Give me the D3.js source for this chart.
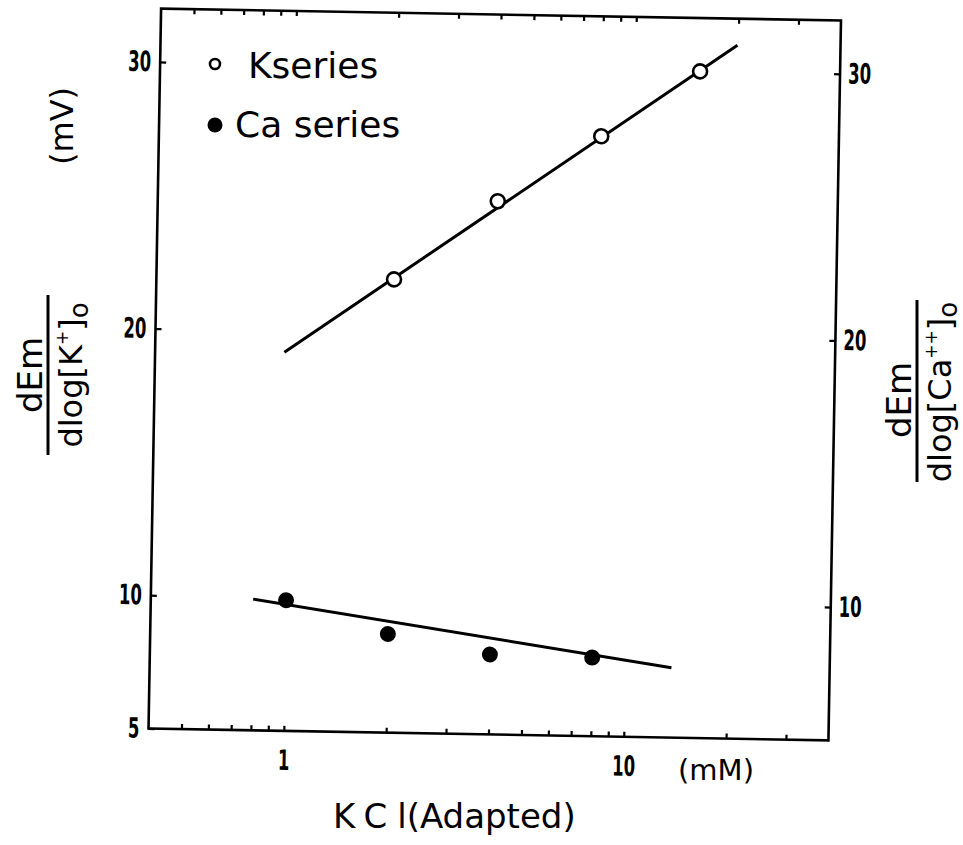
<!DOCTYPE html>
<html>
<head>
<meta charset="utf-8">
<script src="https://cdn.jsdelivr.net/npm/d3@7"></script>
<style>
  body { margin: 0; background: #fff; }
  .frame { fill: none; stroke: #000; stroke-width: 2.6; }
  .tick line { stroke: #000; stroke-width: 2.2; }
  .tick text { font-family: "DejaVu Sans", sans-serif; font-weight: bold; font-size: 28px; fill: #000; }
  .fit { fill: none; stroke: #000; stroke-width: 3; }
  .lbl { font-family: "DejaVu Sans", sans-serif; fill: #000; }
</style>
</head>
<body>
<script>
// K series (open circles): KCl adapted (mM) vs dEm/dlog[K+]o (mV)
const kConc = [2, 4, 8, 15.5];
const kSlope = [22.0, 25.0, 27.5, 30.0];
// Ca series (filled circles): dEm/dlog[Ca++]o (mV)
const caConc = [1, 2, 4, 8];
const caSlope = [9.9, 8.7, 8.0, 7.95];
// drawn regression lines, end points
const kFitConc = [0.96, 19.9];
const kFitSlope = [19.2, 31.0];
const caFitConc = [0.8, 13.7];
const caFitSlope = [9.92, 7.62];
// axes
const xDomain = [0.4, 40];
const xTicks = [0.5, 0.6, 0.7, 0.8, 0.9, 1, 2, 3, 4, 5, 6, 7, 8, 9, 10, 20, 30];
const xTickLabels = [1, 10];
const yDomain = [5, 32];
const yTicksLeft = [5, 10, 20, 30];
const yTicksRight = [10, 20, 30];

const width = 963, height = 845;
// plot box (before the slight scan tilt)
const box = {left: 154.75, right: 834.75, top: 14.5, bottom: 734.5};
const cx = (box.left + box.right) / 2, cy = (box.top + box.bottom) / 2;

const svg = d3.select("body").append("svg")
    .attr("width", width)
    .attr("height", height);

const x = d3.scaleLog().domain(xDomain).range([box.left, box.right]);
const y = d3.scaleLinear().domain(yDomain).range([box.bottom, box.top]);

// the scanned figure is turned about one degree
const g = svg.append("g")
    .attr("transform", "rotate(1," + cx + "," + cy + ")");

g.append("rect")
    .attr("class", "frame")
    .attr("x", box.left).attr("y", box.top)
    .attr("width", box.right - box.left)
    .attr("height", box.bottom - box.top);

const xFmt = d => xTickLabels.includes(d) ? String(d) : "";

// squeeze tick numbers, the original uses a condensed face
const narrow = a => a.selectAll(".tick text")
    .filter(function() { return this.textContent.length > 0; })
    .attr("textLength", function() { return 11.5 * this.textContent.length; })
    .attr("lengthAdjust", "spacingAndGlyphs");

g.append("g")
    .attr("transform", "translate(0," + box.bottom + ")")
    .call(d3.axisBottom(x).tickValues(xTicks).tickSize(-5).tickPadding(19).tickFormat(xFmt))
    .call(a => a.select(".domain").remove())
    .call(narrow);

g.append("g")
    .attr("transform", "translate(0," + box.top + ")")
    .call(d3.axisTop(x).tickValues(xTicks).tickSize(-5).tickFormat(""))
    .call(a => a.select(".domain").remove());

g.append("g")
    .attr("transform", "translate(" + box.left + ",0)")
    .call(d3.axisLeft(y).tickValues(yTicksLeft).tickSize(-6).tickPadding(9).tickFormat(d3.format("d")))
    .call(a => a.select(".domain").remove())
    .call(narrow);

g.append("g")
    .attr("transform", "translate(" + box.right + ",0)")
    .call(d3.axisRight(y).tickValues(yTicksRight).tickSize(-6).tickPadding(8).tickFormat(d3.format("d")))
    .call(a => a.select(".domain").remove())
    .call(narrow);

// fitted lines
const line = d3.line().x(d => x(d[0])).y(d => y(d[1]));
g.append("path").attr("class", "fit")
    .attr("d", line(d3.zip(kFitConc, kFitSlope)));
g.append("path").attr("class", "fit")
    .attr("d", line(d3.zip(caFitConc, caFitSlope)));

// points
g.selectAll(".kpt")
    .data(d3.zip(kConc, kSlope))
  .enter().append("circle")
    .attr("class", "kpt")
    .attr("cx", d => x(d[0])).attr("cy", d => y(d[1]))
    .attr("r", 7)
    .attr("fill", "#fff").attr("stroke", "#000").attr("stroke-width", 2.6);

g.selectAll(".capt")
    .data(d3.zip(caConc, caSlope))
  .enter().append("circle")
    .attr("class", "capt")
    .attr("cx", d => x(d[0])).attr("cy", d => y(d[1]))
    .attr("r", 8)
    .attr("fill", "#000");

// legend
svg.append("circle").attr("cx", 215).attr("cy", 64).attr("r", 5)
    .attr("fill", "#fff").attr("stroke", "#000").attr("stroke-width", 2.6);
svg.append("text").attr("class", "lbl").attr("x", 248).attr("y", 78)
    .style("font-size", "36px").text("Kseries");
svg.append("circle").attr("cx", 215).attr("cy", 125).attr("r", 7.5).attr("fill", "#000");
svg.append("text").attr("class", "lbl").attr("x", 235).attr("y", 137)
    .style("font-size", "36px").text("Ca series");

// x axis titles
svg.append("text").attr("class", "lbl").attr("x", 716).attr("y", 780)
    .attr("text-anchor", "middle").style("font-size", "29px").text("(mM)");
const xt = svg.append("text").attr("class", "lbl").attr("x", 333).attr("y", 828)
    .style("font-size", "34px");
xt.append("tspan").style("letter-spacing", "10px").text("KC");
xt.append("tspan").text("l(Adapted)");

// left y title
svg.append("text").attr("class", "lbl")
    .attr("transform", "translate(73,126) rotate(-90)")
    .attr("text-anchor", "middle").style("font-size", "32px").text("(mV)");

function fraction(tx, ty, ion, sup, bar) {
  const f = svg.append("g").attr("transform", "translate(" + tx + "," + ty + ") rotate(-90)");
  f.append("line").attr("x1", -bar[0]).attr("x2", bar[1])
      .attr("y1", 0).attr("y2", 0)
      .attr("stroke", "#000").attr("stroke-width", 3);
  f.append("text").attr("class", "lbl").attr("x", bar[2]).attr("y", -6)
      .attr("text-anchor", "middle").style("font-size", "34px").text("dEm");
  const d = f.append("text").attr("class", "lbl").attr("x", 0).attr("y", 34)
      .attr("text-anchor", "middle").style("font-size", "32px");
  d.append("tspan").text("dlog[" + ion);
  d.append("tspan").attr("dy", -14).style("font-size", "17px").text(sup);
  d.append("tspan").attr("dy", 14).text("]");
  d.append("tspan").attr("dy", 6).style("font-size", "26px").text("o");
}

fraction(48, 375, "K", "+", [80, 80, 0]);
fraction(917, 392, "Ca", "++", [90, 92, -8]);
</script>
</body>
</html>
